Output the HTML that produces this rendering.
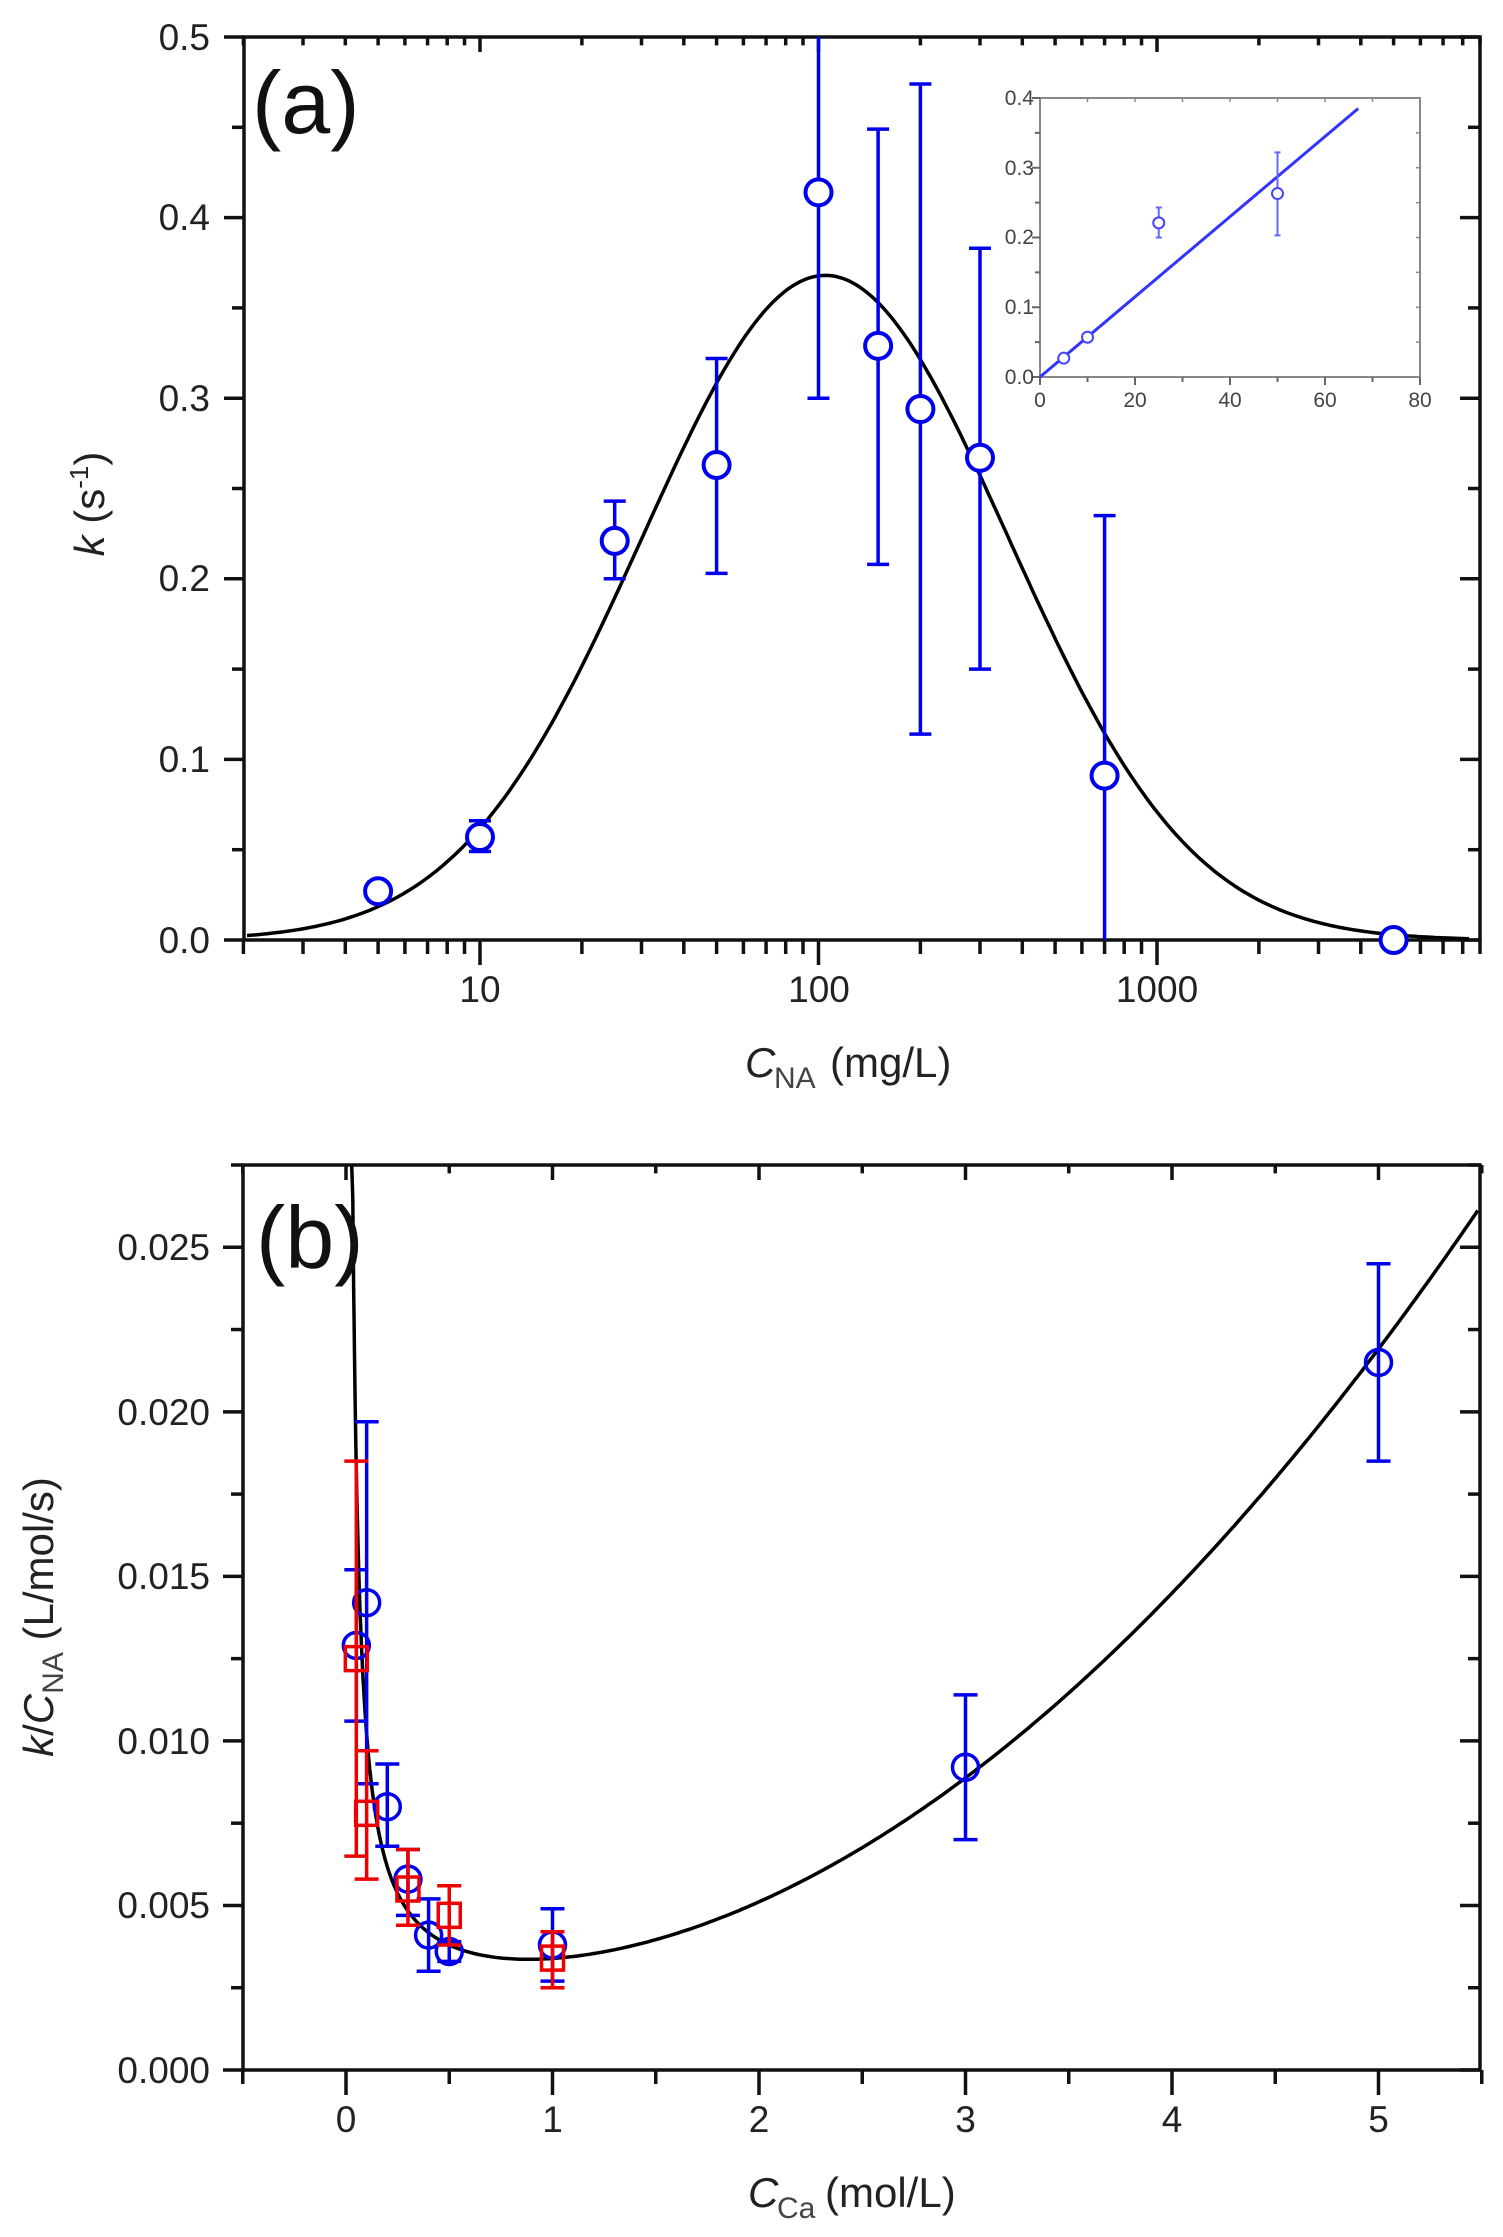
<!DOCTYPE html>
<html><head><meta charset="utf-8"><style>html,body{margin:0;padding:0;background:#fff}svg{display:block}</style></head>
<body>
<svg id="s" xmlns="http://www.w3.org/2000/svg" width="1503" height="2237" viewBox="0 0 1503 2237" font-family="Liberation Sans, Arial, sans-serif">
<rect width="1503" height="2237" fill="#fff"/>
<g id="g"></g>
<!-- panel a texts -->
<g font-size="37" fill="#222" text-anchor="end">
<text x="210" y="953">0.0</text><text x="210" y="772">0.1</text><text x="210" y="591">0.2</text>
<text x="210" y="411">0.3</text><text x="210" y="230">0.4</text><text x="210" y="50">0.5</text>
</g>
<g font-size="37" fill="#222" text-anchor="middle">
<text x="480" y="1002">10</text><text x="819" y="1002">100</text><text x="1157" y="1002">1000</text>
</g>
<text x="252" y="133" font-size="88" fill="#111">(a)</text>
<text x="745" y="1077" font-size="42" fill="#222" font-style="italic">C</text>
<text x="774" y="1088" font-size="30" fill="#444">NA</text>
<text x="830" y="1077" font-size="42" fill="#222">(mg/L)</text>
<g transform="translate(104,504) rotate(-90)" font-size="42" fill="#222" text-anchor="middle">
<text x="0" y="0"><tspan font-style="italic">k</tspan> (s<tspan font-size="26" dy="-16">-1</tspan><tspan dy="16">)</tspan></text>
</g>
<!-- inset labels -->
<g font-size="21" fill="#444" text-anchor="end">
<text x="1034" y="384">0.0</text><text x="1034" y="314">0.1</text><text x="1034" y="244">0.2</text><text x="1034" y="175">0.3</text><text x="1034" y="105">0.4</text>
</g>
<g font-size="21" fill="#444" text-anchor="middle">
<text x="1040" y="407">0</text><text x="1135" y="407">20</text><text x="1230" y="407">40</text><text x="1325" y="407">60</text><text x="1420" y="407">80</text>
</g>
<!-- panel b texts -->
<g font-size="37" fill="#222" text-anchor="end">
<text x="210" y="2083">0.000</text><text x="210" y="1918">0.005</text><text x="210" y="1754">0.010</text>
<text x="210" y="1589">0.015</text><text x="210" y="1425">0.020</text><text x="210" y="1260">0.025</text>
</g>
<g font-size="37" fill="#222" text-anchor="middle" id="bx"></g>
<text x="256" y="1268" font-size="88" fill="#111">(b)</text>
<text x="748" y="2207" font-size="42" fill="#222" font-style="italic">C</text>
<text x="777" y="2218" font-size="30" fill="#444">Ca</text>
<text x="825" y="2207" font-size="42" fill="#222">(mol/L)</text>
<g transform="translate(53,1617) rotate(-90)" font-size="42" fill="#222" text-anchor="middle">
<text x="0" y="0"><tspan font-style="italic">k</tspan>/<tspan font-style="italic">C</tspan><tspan font-size="30" dy="10" fill="#444">NA</tspan><tspan dy="-10"> (L/mol/s)</tspan></text>
</g>
</svg>
<script>
var NS="http://www.w3.org/2000/svg",G=document.getElementById('g');
function el(t,a){var e=document.createElementNS(NS,t);for(var k in a)e.setAttribute(k,a[k]);G.appendChild(e);return e;}
function line(x1,y1,x2,y2,c,w){el('line',{x1:x1,y1:y1,x2:x2,y2:y2,stroke:c,'stroke-width':w});}
// ---------- panel a ----------
var aL=244,aR=1480,aT=37,aB=940;
function ax(c){return 480+(Math.log10(c)-1)*338.5;}
function ay(k){return aB-k*(aB-aT)/0.5;}
el('rect',{x:aL,y:aT,width:aR-aL,height:aB-aT,fill:'none',stroke:'#111','stroke-width':3.5});
for(var i=0;i<=10;i++){var y=ay(i*0.05),L=(i%2==0)?20:12;line(aL-L,y,aL,y,'#111',3.5);line(aR-L,y,aR,y,'#111',3.5);}
for(var d=0;d<4;d++)for(var m=1;m<10;m++){var c=m*Math.pow(10,d);if(c<2||c>9000)continue;var x=ax(c),L=(m==1)?25:14;line(x,aB,x,aB+L,'#111',3.5);line(x,aT,x,aT+L*0.6,'#111',3.5);}
var p='';for(var lx=Math.log10(2.05);lx<=3.93;lx+=0.01){var k=0.368*Math.exp(-Math.pow(lx-2.02,2)/(2*0.54*0.54));p+=(p?'L':'M')+ax(Math.pow(10,lx)).toFixed(1)+','+ay(k).toFixed(1);}
el('path',{d:p,fill:'none',stroke:'#000','stroke-width':3.5});
var A=[[5,0.027,0.022,0.032],[10,0.057,0.049,0.066],[25,0.221,0.200,0.243],[50,0.263,0.203,0.322],[100,0.414,0.300,0.5],[150,0.329,0.208,0.449],[200,0.294,0.114,0.474],[300,0.267,0.150,0.383],[700,0.091,0,0.235],[5000,0.0,0,0]];
A.forEach(function(d){var x=ax(d[0]);if(d[3]>d[2]){line(x,ay(d[2]),x,ay(d[3]),'#0000ee',3.5);if(d[2]>0)line(x-11,ay(d[2]),x+11,ay(d[2]),'#0000ee',3.5);if(d[3]<0.5)line(x-11,ay(d[3]),x+11,ay(d[3]),'#0000ee',3.5);}
el('circle',{cx:x,cy:ay(d[1]),r:13,fill:'#fff',stroke:'#0000ee','stroke-width':4});});
// inset
var iL=1040,iR=1420,iT=98,iB=377;
function ix(v){return iL+v*(iR-iL)/80;} function iy(v){return iB-v*(iB-iT)/0.4;}
el('rect',{x:iL,y:iT,width:iR-iL,height:iB-iT,fill:'none',stroke:'#888','stroke-width':2});
for(var v=0;v<=80;v+=10){var L=(v%20==0)?8:5;line(ix(v),iB,ix(v),iB+L,'#666',2);line(ix(v),iT,ix(v),iT+4,'#888',1.5);}
for(var v=0;v<=8;v++){var L=(v%2==0)?8:5;line(iL-L,iy(v*0.05),iL,iy(v*0.05),'#666',2);line(iR-4,iy(v*0.05),iR,iy(v*0.05),'#888',1.5);}
line(ix(0),iy(0),ix(67),iy(0.385),'#3333ff',3);
[[5,0.027,0.022,0.032],[10,0.057,0.052,0.062],[25,0.221,0.2,0.243],[50,0.263,0.203,0.322]].forEach(function(d){var x=ix(d[0]);line(x,iy(d[2]),x,iy(d[3]),'#6666ff',2);line(x-3,iy(d[2]),x+3,iy(d[2]),'#6666ff',2);line(x-3,iy(d[3]),x+3,iy(d[3]),'#6666ff',2);el('circle',{cx:x,cy:iy(d[1]),r:5.5,fill:'#fff',stroke:'#4444ff','stroke-width':2});});
// ---------- panel b ----------
var bL=243,bR=1480,bT=1165,bB=2070;
function bx(v){return 346+v*206.5;} function by(v){return bB-v*(bB-bT)/0.0275;}
el('rect',{x:bL,y:bT,width:bR-bL,height:bB-bT,fill:'none',stroke:'#111','stroke-width':3.5});
for(var i=0;i<=11;i++){var y=by(i*0.0025),L=(i%2==0)?20:12;line(bL-L,y,bL,y,'#111',3.5);line(bR-L,y,bR,y,'#111',3.5);}
for(var i=-1;i<=11;i++){var x=bx(i*0.5),L=(i%2==0)?25:14;line(x,bB,x,bB+L,'#111',3.5);line(x,bT,x,bT+L*0.6,'#111',3.5);}
var BX=document.getElementById('bx');for(var i=0;i<=5;i++){var t=document.createElementNS(NS,'text');t.setAttribute('x',bx(i));t.setAttribute('y',2132);t.textContent=i;BX.appendChild(t);}
function f(x){return 0.0008/x+0.00089*x*x-0.00055*x+0.00225;}
p='';for(var x=0.029;x<=5.5;x+=(x<0.3?0.002:0.02)){var v=f(x);if(v>0.0275)continue;p+=(p?'L':'M')+bx(x).toFixed(1)+','+by(v).toFixed(1);}
p='M'+bx(0.0275).toFixed(1)+','+bT+p.replace(/^M/,'L');
el('path',{d:p,fill:'none',stroke:'#000','stroke-width':3.5});
var R=[[0.05,0.0125,0.0065,0.0185],[0.1,0.0078,0.0058,0.0097],[0.3,0.0055,0.0044,0.0067],[0.5,0.0047,0.0038,0.0056],[1,0.0034,0.0025,0.0042]];
var B=[[0.05,0.0129,0.0106,0.0152],[0.1,0.0142,0.0087,0.0197],[0.2,0.0080,0.0068,0.0093],[0.3,0.0058,0.0047,0.0067],[0.4,0.0041,0.0030,0.0052],[0.5,0.0036,0.0033,0.0039],[1,0.0038,0.0027,0.0049],[3,0.0092,0.0070,0.0114],[5,0.0215,0.0185,0.0245]];
B.forEach(function(d){var x=bx(d[0]);line(x,by(d[2]),x,by(d[3]),'#0000ee',3.5);line(x-12,by(d[2]),x+12,by(d[2]),'#0000ee',3.5);line(x-12,by(d[3]),x+12,by(d[3]),'#0000ee',3.5);el('circle',{cx:x,cy:by(d[1]),r:13,fill:'none',stroke:'#0000ee','stroke-width':3.5});});
R.forEach(function(d){var x=bx(d[0]);line(x,by(d[2]),x,by(d[3]),'#ee0000',3.5);line(x-12,by(d[2]),x+12,by(d[2]),'#ee0000',3.5);line(x-12,by(d[3]),x+12,by(d[3]),'#ee0000',3.5);el('rect',{x:x-11,y:by(d[1])-12,width:22,height:24,fill:'none',stroke:'#ee0000','stroke-width':3.5});});
</script>
</body></html>
